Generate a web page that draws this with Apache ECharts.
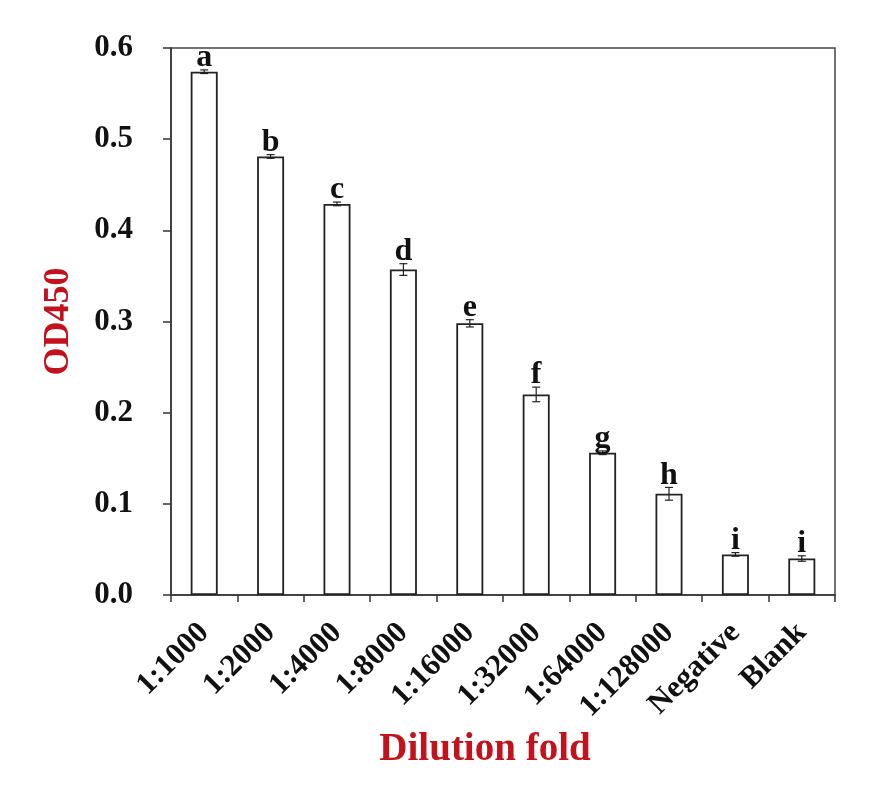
<!DOCTYPE html>
<html>
<head>
<meta charset="utf-8">
<script src="https://cdn.jsdelivr.net/npm/echarts@6/dist/echarts.min.js"></script>
<style>html,body{margin:0;padding:0;background:#fff}#chart{width:879px;height:800px}</style>
</head>
<body>
<div id="chart"></div>
<script>
var categories = ['1:1000','1:2000','1:4000','1:8000','1:16000','1:32000','1:64000','1:128000','Negative','Blank'];
var values = [0.574, 0.481, 0.429, 0.357, 0.298, 0.220, 0.156, 0.111, 0.0445, 0.040];
var errors = [0.002, 0.002, 0.002, 0.0064, 0.004, 0.008, 0.002, 0.007, 0.002, 0.003];
var letters = ['a','b','c','d','e','f','g','h','i','i'];
var yTicks = [0, 0.1, 0.2, 0.3, 0.4, 0.5, 0.6];

var FONT = '"Liberation Serif", "Times New Roman", serif';
var RED = '#c4121c';
var chart = echarts.init(document.getElementById('chart'), null, {renderer: 'canvas'});

var errData = values.map(function (v, i) { return [i, v, errors[i], letters[i]]; });

chart.setOption({
  animation: false,
  backgroundColor: '#fff',
  grid: {left: 171, right: 44, top: 48, bottom: 205, show: true, borderColor: '#444', borderWidth: 1.5, backgroundColor: 'transparent'},
  xAxis: {
    type: 'category',
    data: categories,
    boundaryGap: true,
    axisLine: {lineStyle: {color: '#333', width: 1.5}},
    axisTick: {show: true, alignWithLabel: false, inside: false, length: 7, lineStyle: {color: '#333', width: 1.5}},
    axisLabel: {rotate: 45, margin: 33, fontFamily: FONT, fontWeight: 'bold', fontSize: 31, color: '#111', interval: 0},
    name: 'Dilution fold',
    nameLocation: 'middle',
    nameGap: 134,
    nameTextStyle: {fontFamily: FONT, fontWeight: 'bold', fontSize: 39, color: RED, padding: [0, 36, 0, 0]}
  },
  yAxis: {
    type: 'value',
    min: yTicks[0],
    max: yTicks[yTicks.length - 1],
    interval: 0.1,
    splitLine: {show: false},
    axisLine: {show: true, lineStyle: {color: '#333', width: 1.5}},
    axisTick: {show: true, length: 8, lineStyle: {color: '#333', width: 1.5}},
    axisLabel: {margin: 38, fontFamily: FONT, fontWeight: 'bold', fontSize: 31, color: '#111', formatter: function (v) { return v.toFixed(1); }},
    name: 'OD450',
    nameLocation: 'middle',
    nameGap: 94,
    nameRotate: 90,
    nameTextStyle: {fontFamily: FONT, fontWeight: 'bold', fontSize: 36, color: RED}
  },
  series: [
    {
      type: 'bar',
      data: values,
      barWidth: 27,
      itemStyle: {color: '#fff', borderColor: '#222', borderWidth: 1.8},
      z: 2
    },
    {
      type: 'custom',
      data: errData,
      z: 5,
      renderItem: function (params, api) {
        var i = api.value(0), v = api.value(1), e = api.value(2);
        var top = api.coord([i, v + e]);
        var bot = api.coord([i, v - e]);
        var x = top[0];
        var cw = 4;
        var st = {stroke: '#222', lineWidth: 1.2};
        return {
          type: 'group',
          children: [
            {type: 'line', shape: {x1: x, y1: top[1], x2: x, y2: bot[1]}, style: st},
            {type: 'line', shape: {x1: x - cw, y1: top[1], x2: x + cw, y2: top[1]}, style: st},
            {type: 'line', shape: {x1: x - cw, y1: bot[1], x2: x + cw, y2: bot[1]}, style: st},
            {type: 'text', style: {text: letters[params.dataIndex], x: x, y: top[1] + 4, align: 'center', verticalAlign: 'bottom',
              font: 'bold 32px ' + FONT, fill: '#111'}}
          ]
        };
      }
    }
  ]
});
</script>
</body>
</html>
